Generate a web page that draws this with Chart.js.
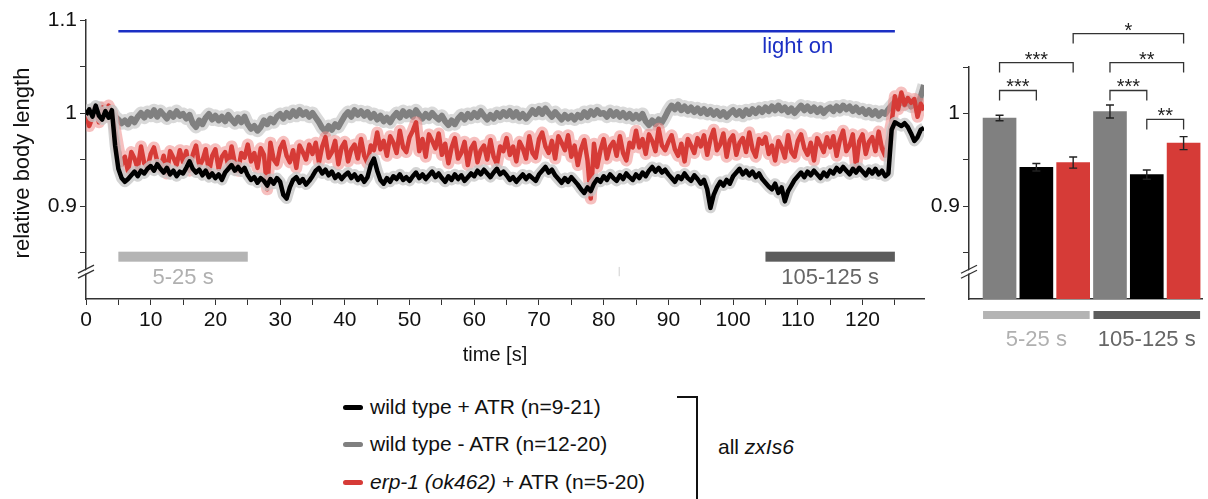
<!DOCTYPE html>
<html>
<head>
<meta charset="utf-8">
<script src="https://cdn.jsdelivr.net/npm/chart.js@4.4.1/dist/chart.umd.min.js"></script>
<style>
  body { margin: 0; background: #fff; width: 1208px; height: 499px; overflow: hidden; position: relative;
         font-family: "Liberation Sans", Arial, sans-serif; color: #111; }
  canvas { position: absolute; top: 0; }
  #main { left: 0; }
  #bars { left: 900px; }
  .leg { position: absolute; left: 343px; font-size: 21px; white-space: nowrap; line-height: 24px; }
  .leg .sw { display: inline-block; width: 20px; height: 5px; border-radius: 3px; vertical-align: middle; margin-right: 7px; position: relative; top: -1px; }
  #brk { position: absolute; left: 677px; top: 396px; width: 19px; height: 120px; border-top: 2px solid #111; border-right: 2px solid #111; }
  #allz { position: absolute; left: 718px; top: 435px; font-size: 21px; }
</style>
</head>
<body>
<canvas id="main" width="940" height="370"></canvas>
<canvas id="bars" width="308" height="370"></canvas>
<div id="legend"></div>
<div id="brk"></div>
<div id="allz">all <i>zxIs6</i></div>

<script>
// time axis: one sample every 0.5 s from 0 to 129.5 s
const timeStep = 0.5;

// wild type + ATR (black), values read every 0.5 s
const wildTypeATR = [
  0.998, 1.004, 0.996, 1.008, 0.997, 0.993, 1.002, 0.995, 1.003, 0.965,
  0.940, 0.930, 0.926, 0.929, 0.933, 0.937, 0.932, 0.938, 0.935, 0.940,
  0.943, 0.938, 0.945, 0.940, 0.936, 0.941, 0.934, 0.938, 0.932, 0.937,
  0.935, 0.941, 0.948, 0.940, 0.936, 0.939, 0.933, 0.938, 0.931, 0.935,
  0.930, 0.934, 0.928, 0.936, 0.940, 0.944, 0.938, 0.942, 0.937, 0.941,
  0.933, 0.928, 0.931, 0.925, 0.930, 0.927, 0.922, 0.929, 0.924, 0.930,
  0.926, 0.912, 0.908, 0.920, 0.928, 0.931, 0.925, 0.929, 0.923, 0.927,
  0.932, 0.938, 0.941, 0.935, 0.939, 0.933, 0.937, 0.930, 0.934, 0.929,
  0.933, 0.936, 0.930, 0.934, 0.928, 0.932, 0.926, 0.931, 0.944, 0.951,
  0.938, 0.928, 0.924, 0.930, 0.926, 0.932, 0.929, 0.934, 0.928, 0.931,
  0.927, 0.932, 0.936, 0.930, 0.934, 0.929, 0.933, 0.937, 0.931, 0.935,
  0.930, 0.926, 0.932, 0.928, 0.934, 0.929, 0.933, 0.927, 0.931, 0.935,
  0.932, 0.938, 0.934, 0.939, 0.935, 0.931, 0.936, 0.940, 0.934, 0.937,
  0.933, 0.928, 0.931, 0.926, 0.930, 0.934, 0.929, 0.933, 0.930, 0.927,
  0.934, 0.938, 0.942, 0.936, 0.939, 0.933, 0.929, 0.925, 0.930, 0.926,
  0.931, 0.927, 0.923, 0.918, 0.914, 0.920, 0.916, 0.924, 0.929, 0.926,
  0.932, 0.928, 0.934, 0.930, 0.927, 0.933, 0.929, 0.935, 0.931, 0.928,
  0.934, 0.930, 0.936, 0.932, 0.938, 0.942, 0.937, 0.941, 0.936, 0.939,
  0.934, 0.930, 0.926, 0.932, 0.929, 0.935, 0.930, 0.927, 0.933, 0.929,
  0.924, 0.928, 0.918, 0.898, 0.912, 0.920, 0.926, 0.922, 0.928, 0.924,
  0.932, 0.936, 0.940, 0.934, 0.938, 0.933, 0.937, 0.931, 0.935, 0.929,
  0.925, 0.921, 0.918, 0.924, 0.914, 0.920, 0.905, 0.916, 0.922, 0.928,
  0.932, 0.936, 0.931, 0.937, 0.933, 0.938, 0.934, 0.930, 0.936, 0.932,
  0.938, 0.935, 0.941, 0.937, 0.942, 0.938, 0.934, 0.940, 0.936, 0.941,
  0.937, 0.933, 0.939, 0.935, 0.940, 0.934, 0.938, 0.932, 0.935, 0.982,
  0.990, 0.988, 0.986, 0.989, 0.985, 0.978, 0.970, 0.974, 0.982, 0.984
];

// wild type - ATR (grey)
const wildTypeNoATR = [
  1.000, 0.996, 1.004, 0.999, 1.006, 0.998, 1.003, 0.997, 1.002, 0.996,
  0.993, 0.989, 0.992, 0.988, 0.994, 0.990, 0.996, 1.000, 0.995, 1.001,
  0.997, 1.003, 0.996, 1.002, 0.998, 0.994, 1.000, 0.996, 1.002, 0.997,
  0.999, 0.994, 0.998, 0.989, 0.985, 0.992, 0.988, 0.995, 0.999, 0.993,
  0.997, 0.992, 0.996, 0.991, 0.998, 0.993, 0.989, 0.995, 0.990, 0.996,
  0.988, 0.983, 0.986, 0.981, 0.985, 0.992, 0.988, 0.994, 0.990, 0.996,
  0.999, 0.994, 1.000, 0.996, 1.002, 0.997, 1.003, 0.998, 1.001, 0.996,
  1.000, 0.995, 0.990, 0.984, 0.980, 0.986, 0.982, 0.988, 0.985, 0.991,
  0.997, 1.001, 0.996, 1.003, 0.998, 1.002, 0.997, 1.001, 0.995, 0.999,
  0.993, 0.997, 0.991, 0.995, 0.990, 0.996, 1.000, 0.995, 1.002, 0.997,
  1.001, 0.996, 1.003, 0.998, 0.994, 0.999, 0.995, 1.000, 0.996, 0.993,
  0.997, 0.991, 0.987, 0.992, 0.988, 0.994, 0.998, 0.993, 0.999, 0.995,
  1.000, 0.996, 1.002, 0.997, 0.993, 0.998, 0.994, 1.000, 0.996, 1.001,
  0.997, 1.002, 0.996, 1.001, 0.995, 0.999, 0.994, 0.998, 1.003, 0.999,
  1.004, 0.999, 1.005, 1.000, 0.996, 1.001, 0.997, 0.993, 0.998, 0.994,
  0.997, 0.993, 0.998, 0.995, 1.001, 0.996, 1.002, 0.998, 1.003, 0.999,
  1.000, 0.996, 1.002, 0.997, 1.001, 0.996, 1.000, 0.995, 0.999, 0.994,
  0.998, 0.994, 0.999, 0.991, 0.987, 0.992, 0.988, 0.993, 0.990, 0.996,
  1.003, 1.008, 1.004, 1.009, 1.003, 1.007, 1.002, 1.006, 1.001, 1.005,
  1.000, 1.004, 0.999, 1.003, 0.998, 1.002, 0.997, 1.001, 0.996, 1.000,
  1.003, 0.998, 1.002, 0.997, 1.003, 0.999, 1.004, 1.000, 1.005, 1.001,
  1.006, 1.002, 1.007, 1.003, 1.008, 1.003, 1.006, 1.001, 1.005, 1.000,
  1.004, 1.008, 1.003, 1.007, 1.002, 1.006, 1.001, 1.005, 1.000, 1.004,
  1.006, 1.002, 1.007, 1.003, 1.008, 1.004, 1.007, 1.002, 1.006, 1.001,
  1.004, 0.999, 1.003, 0.998, 1.002, 0.997, 1.001, 0.999, 1.004, 1.008,
  1.012, 1.008, 1.014, 1.009, 1.013, 1.007, 1.011, 1.006, 1.018, 1.030
];

// erp-1 (ok462) + ATR (red)
const erp1ATR = [
  0.998, 0.986, 0.995, 1.003, 0.990, 1.006, 0.996, 1.008, 1.000, 0.982,
  0.962, 0.944, 0.953, 0.937, 0.958, 0.951, 0.940, 0.964, 0.946, 0.941,
  0.956, 0.963, 0.948, 0.941, 0.954, 0.935, 0.959, 0.952, 0.944, 0.960,
  0.947, 0.959, 0.938, 0.955, 0.965, 0.943, 0.949, 0.961, 0.936, 0.954,
  0.961, 0.940, 0.953, 0.958, 0.943, 0.964, 0.946, 0.938, 0.957, 0.952,
  0.966, 0.948, 0.957, 0.941, 0.962, 0.955, 0.918, 0.968, 0.950, 0.945,
  0.962, 0.969, 0.954, 0.947, 0.960, 0.941, 0.965, 0.958, 0.950, 0.966,
  0.956, 0.968, 0.947, 0.964, 0.974, 0.952, 0.958, 0.970, 0.945, 0.963,
  0.969, 0.948, 0.961, 0.966, 0.951, 0.972, 0.954, 0.946, 0.965, 0.960,
  0.979, 0.961, 0.970, 0.954, 0.975, 0.968, 0.957, 0.981, 0.963, 0.958,
  0.974, 0.981, 0.990, 0.959, 0.972, 0.953, 0.977, 0.970, 0.962, 0.978,
  0.955, 0.967, 0.946, 0.963, 0.973, 0.951, 0.957, 0.969, 0.944, 0.962,
  0.968, 0.947, 0.960, 0.965, 0.950, 0.971, 0.953, 0.945, 0.964, 0.959,
  0.973, 0.955, 0.964, 0.948, 0.969, 0.962, 0.951, 0.975, 0.957, 0.952,
  0.972, 0.979, 0.964, 0.957, 0.970, 0.951, 0.975, 0.968, 0.960, 0.976,
  0.953, 0.965, 0.944, 0.961, 0.971, 0.949, 0.908, 0.967, 0.942, 0.960,
  0.972, 0.951, 0.964, 0.969, 0.954, 0.975, 0.957, 0.949, 0.968, 0.963,
  0.981, 0.963, 0.972, 0.956, 0.977, 0.970, 0.959, 0.983, 0.965, 0.960,
  0.969, 0.976, 0.961, 0.954, 0.967, 0.948, 0.972, 0.965, 0.957, 0.973,
  0.964, 0.976, 0.955, 0.972, 0.982, 0.960, 0.966, 0.978, 0.953, 0.971,
  0.976, 0.955, 0.968, 0.973, 0.958, 0.979, 0.961, 0.953, 0.972, 0.967,
  0.974, 0.956, 0.965, 0.949, 0.970, 0.963, 0.952, 0.976, 0.958, 0.953,
  0.970, 0.977, 0.962, 0.955, 0.968, 0.949, 0.973, 0.966, 0.958, 0.974,
  0.963, 0.975, 0.954, 0.971, 0.981, 0.959, 0.965, 0.977, 0.942, 0.970,
  0.977, 0.956, 0.969, 0.974, 0.959, 0.980, 0.962, 0.954, 0.973, 0.990,
  1.018, 1.004, 1.022, 1.009, 1.016, 1.011, 1.015, 0.996, 1.010, 1.003
];

// light stimulus
const lightOn = [5, 125];
const lightLevel = 1.088;

// analysis windows
const periodStarts = [5, 105];
const periodEnds = [25, 125];
const periodLabels = ['5-25 s', '105-125 s'];

// bar chart (mean relative body length in each window)
const barStrains = ['wt -ATR', 'wt +ATR', 'erp-1 +ATR', 'wt -ATR', 'wt +ATR', 'erp-1 +ATR'];
const barPeriod = [0, 0, 0, 1, 1, 1];
const barMeans = [0.995, 0.942, 0.947, 1.002, 0.934, 0.968];
const barErrors = [0.003, 0.004, 0.006, 0.007, 0.005, 0.007];
// significance brackets: [bar a, bar b, stars]
const comparisons = [[0, 1, '***'], [0, 2, '***'], [3, 4, '***'], [4, 5, '**'], [3, 5, '**'], [2, 5, '*']];

const seriesLabels = [
  'wild type + ATR (n=9-21)',
  'wild type - ATR (n=12-20)',
  '<i>erp-1 (ok462)</i> + ATR (n=5-20)'
];

// ---- styles ----
const FONT = '"Liberation Sans", Arial, sans-serif';
const AXIS = '#333';
const strainColor = { 'wt -ATR': '#808080', 'wt +ATR': '#000000', 'erp-1 +ATR': '#d63b37' };
const periodColor = ['#b4b4b4', '#5c5c5c'];
const periodText = ['#b0b0b0', '#666666'];
const bracketLevels = [1.0247, 1.0548, 1.0247, 0.9935, 1.0548, 1.086];

const times = wildTypeATR.map((_, i) => i * timeStep);
const pts = arr => arr.map((v, i) => ({ x: times[i], y: v }));

function lineDs(values, color, width, order) {
  return { data: pts(values), borderColor: color, borderWidth: width, pointRadius: 0,
           tension: 0, borderJoinStyle: 'round', order: order, fill: false };
}

function drawBreak(ctx, x, y) {
  ctx.save();
  ctx.fillStyle = '#fff';
  ctx.beginPath();
  ctx.moveTo(x - 8, y + 4); ctx.lineTo(x + 8, y - 4); ctx.lineTo(x + 8, y - 1); ctx.lineTo(x - 8, y + 7);
  ctx.closePath(); ctx.fill();
  ctx.strokeStyle = AXIS; ctx.lineWidth = 1.3;
  ctx.beginPath();
  ctx.moveTo(x - 8, y + 3); ctx.lineTo(x + 8, y - 5);
  ctx.moveTo(x - 8, y + 8); ctx.lineTo(x + 8, y);
  ctx.stroke();
  ctx.restore();
}

const mainDecor = {
  id: 'mainDecor',
  afterDraw(chart) {
    const { ctx, scales: { x, y } } = chart;
    ctx.save();
    ctx.textAlign = 'center'; ctx.textBaseline = 'middle';
    // analysis windows
    periodStarts.forEach((s, i) => {
      const x0 = x.getPixelForValue(s), x1 = x.getPixelForValue(periodEnds[i]);
      const yc = y.getPixelForValue(0.8455);
      ctx.fillStyle = periodColor[i];
      ctx.fillRect(x0, yc - 5, x1 - x0, 10);
      ctx.fillStyle = periodText[i];
      ctx.font = '22px ' + FONT;
      ctx.fillText(periodLabels[i], (x0 + x1) / 2, y.getPixelForValue(0.823));
    });
    // light label
    ctx.fillStyle = '#1b2fc4';
    ctx.font = '22px ' + FONT;
    ctx.fillText('light on', x.getPixelForValue(110), y.getPixelForValue(1.0705));
    // axis titles
    ctx.fillStyle = '#111';
    ctx.font = '20px ' + FONT;
    ctx.fillText('time [s]', x.getPixelForValue(63.2), 355);
    ctx.save();
    ctx.translate(23, 163);
    ctx.rotate(-Math.PI / 2);
    ctx.font = '22px ' + FONT;
    ctx.fillText('relative body length', 0, 0);
    ctx.restore();
    // faint mark
    ctx.strokeStyle = '#cfcfcf'; ctx.lineWidth = 1;
    ctx.beginPath();
    ctx.moveTo(x.getPixelForValue(82.4), y.getPixelForValue(0.8345));
    ctx.lineTo(x.getPixelForValue(82.4), y.getPixelForValue(0.8245));
    ctx.stroke();
    ctx.restore();
    drawBreak(ctx, x.left, y.getPixelForValue(0.831));
  }
};

new Chart(document.getElementById('main'), {
  type: 'line',
  data: {
    datasets: [
      { data: [{ x: lightOn[0], y: lightLevel }, { x: lightOn[1], y: lightLevel }],
        borderColor: '#1b2fc4', borderWidth: 2.5, pointRadius: 0, order: 0 },
      lineDs(wildTypeATR, '#000000', 4.5, 1),
      lineDs(wildTypeATR, 'rgba(200,200,200,0.8)', 11, 2),
      lineDs(erp1ATR, '#d63b37', 4.5, 3),
      lineDs(erp1ATR, 'rgba(238,140,138,0.55)', 12, 4),
      lineDs(wildTypeNoATR, '#808080', 6, 5),
      lineDs(wildTypeNoATR, 'rgba(210,210,210,0.85)', 13, 6)
    ]
  },
  options: {
    responsive: false, animation: false, events: [],
    layout: { padding: { top: 20, right: 16, left: 0, bottom: 0 } },
    plugins: { legend: { display: false }, tooltip: { enabled: false } },
    scales: {
      x: {
        type: 'linear', min: 0, max: 129.5,
        afterFit: s => { s.height = 71; },
        ticks: { stepSize: 5, includeBounds: false, autoSkip: false, maxRotation: 0, padding: 3,
                 color: '#111', font: { family: FONT, size: 21 },
                 callback: v => (v % 10 === 0 ? String(v) : '') },
        grid: { drawOnChartArea: false, tickLength: 6, color: AXIS },
        border: { color: AXIS, width: 1.5 }
      },
      y: {
        min: 0.8, max: 1.1,
        afterFit: s => { s.width = 86; },
        afterBuildTicks: s => { s.ticks = [0.85, 0.9, 0.95, 1, 1.05, 1.1].map(value => ({ value })); },
        ticks: { color: '#111', font: { family: FONT, size: 21 }, padding: 3,
                 callback: v => ([0.9, 1, 1.1].some(l => Math.abs(l - v) < 1e-9) ? String(v) : '') },
        grid: { drawOnChartArea: false, tickLength: 6, color: AXIS },
        border: { color: AXIS, width: 1.5 }
      }
    }
  },
  plugins: [mainDecor]
});

const barDecor = {
  id: 'barDecor',
  afterDraw(chart) {
    const { ctx, scales: { x, y } } = chart;
    const meta = chart.getDatasetMeta(0);
    ctx.save();
    // error bars
    ctx.strokeStyle = '#222'; ctx.lineWidth = 1.4;
    barMeans.forEach((m, i) => {
      const cx = x.getPixelForValue(i);
      const yt = y.getPixelForValue(m + barErrors[i]), yb = y.getPixelForValue(m - barErrors[i]);
      ctx.beginPath();
      ctx.moveTo(cx, yt); ctx.lineTo(cx, yb);
      ctx.moveTo(cx - 4, yt); ctx.lineTo(cx + 4, yt);
      ctx.moveTo(cx - 4, yb); ctx.lineTo(cx + 4, yb);
      ctx.stroke();
    });
    // significance brackets
    ctx.strokeStyle = '#333'; ctx.lineWidth = 1.3;
    ctx.fillStyle = '#222'; ctx.font = '20px ' + FONT;
    ctx.textAlign = 'center'; ctx.textBaseline = 'alphabetic';
    comparisons.forEach(([a, b, stars], k) => {
      const xa = x.getPixelForValue(a), xb = x.getPixelForValue(b);
      const yl = y.getPixelForValue(bracketLevels[k]);
      ctx.beginPath();
      ctx.moveTo(xa, yl + 10); ctx.lineTo(xa, yl); ctx.lineTo(xb, yl); ctx.lineTo(xb, yl + 10);
      ctx.stroke();
      ctx.fillText(stars, (xa + xb) / 2, yl + 3);
    });
    // window bars under the axis
    [0, 1].forEach(p => {
      const idx = barPeriod.map((q, i) => (q === p ? i : -1)).filter(i => i >= 0);
      const first = meta.data[idx[0]], last = meta.data[idx[idx.length - 1]];
      const x0 = first.x - first.width / 2, x1 = last.x + last.width / 2;
      ctx.fillStyle = periodColor[p];
      ctx.fillRect(x0, y.bottom + 12, x1 - x0, 8);
      ctx.fillStyle = periodText[p];
      ctx.font = '22px ' + FONT; ctx.textBaseline = 'middle';
      ctx.fillText(periodLabels[p], (x0 + x1) / 2, y.bottom + 41);
    });
    ctx.restore();
    drawBreak(ctx, x.left, y.getPixelForValue(0.831));
  }
};

new Chart(document.getElementById('bars'), {
  type: 'bar',
  data: {
    datasets: [{
      data: barMeans.map((v, i) => ({ x: i, y: v })),
      backgroundColor: barStrains.map(s => strainColor[s]),
      barThickness: 33, base: 0.8, grouped: false
    }]
  },
  options: {
    responsive: false, animation: false, events: [],
    layout: { padding: { top: 67, right: 6, left: 0, bottom: 0 } },
    plugins: { legend: { display: false }, tooltip: { enabled: false } },
    scales: {
      x: {
        type: 'linear', min: -0.83, max: 5.5, offset: false,
        afterFit: s => { s.height = 71; },
        ticks: { display: false },
        grid: { display: false, offset: false },
        border: { color: AXIS, width: 1.5 }
      },
      y: {
        min: 0.8, max: 1.05,
        afterFit: s => { s.width = 69; },
        afterBuildTicks: s => { s.ticks = [0.85, 0.9, 0.95, 1, 1.05].map(value => ({ value })); },
        ticks: { color: '#111', font: { family: FONT, size: 21 }, padding: 3,
                 callback: v => ([0.9, 1].some(l => Math.abs(l - v) < 1e-9) ? String(v) : '') },
        grid: { drawOnChartArea: false, tickLength: 6, color: AXIS },
        border: { color: AXIS, width: 1.5 }
      }
    }
  },
  plugins: [barDecor]
});

// legend
const legendColors = [strainColor['wt +ATR'], strainColor['wt -ATR'], strainColor['erp-1 +ATR']];
const legendTops = [395, 432, 470];
const legend = document.getElementById('legend');
seriesLabels.forEach((lab, i) => {
  const d = document.createElement('div');
  d.className = 'leg';
  d.style.top = legendTops[i] + 'px';
  d.innerHTML = '<span class="sw" style="background:' + legendColors[i] + '"></span>' + lab;
  legend.appendChild(d);
});
</script>
</body>
</html>
